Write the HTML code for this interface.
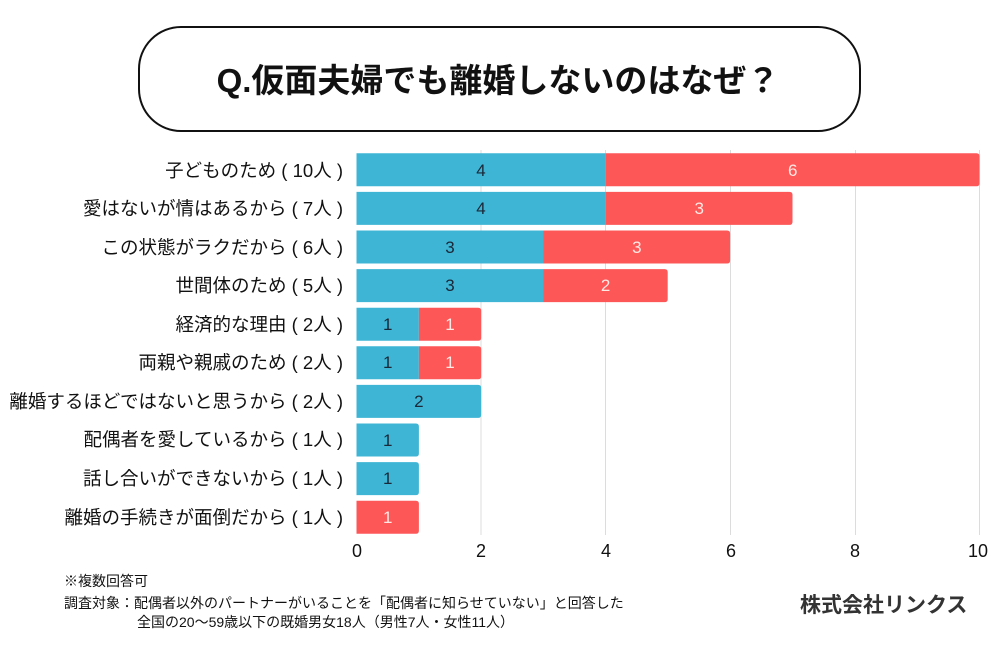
<!DOCTYPE html>
<html><head><meta charset="utf-8"><style>
html,body{margin:0;padding:0;background:#fff;}
body{width:1000px;height:650px;overflow:hidden;position:relative;}
svg{position:absolute;left:0;top:0;}
</style></head><body>
<svg width="1000" height="650" viewBox="0 0 1000 650" xmlns="http://www.w3.org/2000/svg">
<rect x="0" y="0" width="1000" height="650" fill="#fff"/>
<!-- title box -->
<rect x="139" y="27" width="721" height="104" rx="42" ry="42" fill="#fff" stroke="#111" stroke-width="2"/>
<text x="498" y="92" text-anchor="middle" font-family="Liberation Sans, 'Noto Sans CJK JP', sans-serif" font-weight="bold" font-size="33" fill="#111">Q.仮面夫婦でも離婚しないのはなぜ？</text>

<!-- gridlines -->
<g stroke="#dcdcdc" stroke-width="1">
<line x1="481" y1="150" x2="481" y2="535"/>
<line x1="605.5" y1="150" x2="605.5" y2="535"/>
<line x1="730.5" y1="150" x2="730.5" y2="535"/>
<line x1="855.5" y1="150" x2="855.5" y2="535"/>
<line x1="979.5" y1="150" x2="979.5" y2="535"/>
</g>

<!-- bars -->
<g>
<path d="M356.5 153.3 H605.9 V186.3 H356.5 Z" fill="#3fb5d5"/>
<path d="M605.9 153.3 H976.5 Q979.5 153.3 979.5 156.3 V183.3 Q979.5 186.3 976.5 186.3 H605.9 Z" fill="#fd5758"/>
<path d="M356.5 191.9 H605.9 V224.9 H356.5 Z" fill="#3fb5d5"/>
<path d="M605.9 191.9 H789.5 Q792.5 191.9 792.5 194.9 V221.9 Q792.5 224.9 789.5 224.9 H605.9 Z" fill="#fd5758"/>
<path d="M356.5 230.5 H543.5 V263.5 H356.5 Z" fill="#3fb5d5"/>
<path d="M543.5 230.5 H727.1 Q730.1 230.5 730.1 233.5 V260.5 Q730.1 263.5 727.1 263.5 H543.5 Z" fill="#fd5758"/>
<path d="M356.5 269.1 H543.5 V302.1 H356.5 Z" fill="#3fb5d5"/>
<path d="M543.5 269.1 H664.7 Q667.7 269.1 667.7 272.1 V299.1 Q667.7 302.1 664.7 302.1 H543.5 Z" fill="#fd5758"/>
<path d="M356.5 307.7 H418.9 V340.7 H356.5 Z" fill="#3fb5d5"/>
<path d="M418.9 307.7 H478.2 Q481.2 307.7 481.2 310.7 V337.7 Q481.2 340.7 478.2 340.7 H418.9 Z" fill="#fd5758"/>
<path d="M356.5 346.3 H418.9 V379.3 H356.5 Z" fill="#3fb5d5"/>
<path d="M418.9 346.3 H478.2 Q481.2 346.3 481.2 349.3 V376.3 Q481.2 379.3 478.2 379.3 H418.9 Z" fill="#fd5758"/>
<path d="M356.5 384.9 H478.2 Q481.2 384.9 481.2 387.9 V414.9 Q481.2 417.9 478.2 417.9 H356.5 Z" fill="#3fb5d5"/>
<path d="M356.5 423.5 H415.9 Q418.9 423.5 418.9 426.5 V453.5 Q418.9 456.5 415.9 456.5 H356.5 Z" fill="#3fb5d5"/>
<path d="M356.5 462.1 H415.9 Q418.9 462.1 418.9 465.1 V492.1 Q418.9 495.1 415.9 495.1 H356.5 Z" fill="#3fb5d5"/>
<path d="M356.5 500.7 H415.9 Q418.9 500.7 418.9 503.7 V530.7 Q418.9 533.7 415.9 533.7 H356.5 Z" fill="#fd5758"/>
</g>

<!-- value labels -->
<g font-family="Liberation Sans, sans-serif" font-size="17" text-anchor="middle">
<g fill="#1a2838">
<text x="481" y="176">4</text>
<text x="481" y="214">4</text>
<text x="450" y="253">3</text>
<text x="450" y="291">3</text>
<text x="387.7" y="330">1</text>
<text x="387.7" y="368">1</text>
<text x="418.9" y="407">2</text>
<text x="387.7" y="446">1</text>
<text x="387.7" y="484">1</text>
</g>
<g fill="#ffe9e4">
<text x="792.7" y="176">6</text>
<text x="699.2" y="214">3</text>
<text x="636.8" y="253">3</text>
<text x="605.6" y="291">2</text>
<text x="450" y="330">1</text>
<text x="450" y="368">1</text>
<text x="387.7" y="523">1</text>
</g>
</g>

<!-- category labels -->
<g font-family="Liberation Sans, 'Noto Sans CJK JP', sans-serif" font-size="18.5" fill="#111" text-anchor="end">
<text x="343" y="177">子どものため ( 10人 )</text>
<text x="343" y="215">愛はないが情はあるから ( 7人 )</text>
<text x="343" y="254">この状態がラクだから ( 6人 )</text>
<text x="343" y="292">世間体のため ( 5人 )</text>
<text x="343" y="331">経済的な理由 ( 2人 )</text>
<text x="343" y="369">両親や親戚のため ( 2人 )</text>
<text x="343" y="408">離婚するほどではないと思うから ( 2人 )</text>
<text x="343" y="446">配偶者を愛しているから ( 1人 )</text>
<text x="343" y="485">話し合いができないから ( 1人 )</text>
<text x="343" y="524">離婚の手続きが面倒だから ( 1人 )</text>
</g>

<!-- axis tick labels -->
<g font-family="Liberation Sans, sans-serif" font-size="18" fill="#111" text-anchor="middle">
<text x="357" y="557">0</text>
<text x="481" y="557">2</text>
<text x="606" y="557">4</text>
<text x="731" y="557">6</text>
<text x="855" y="557">8</text>
<text x="978" y="557">10</text>
</g>

<!-- footer -->
<g font-family="Liberation Sans, 'Noto Sans CJK JP', sans-serif" font-size="14" fill="#111">
<text x="64" y="586">※複数回答可</text>
<text x="64" y="608">調査対象：配偶者以外のパートナーがいることを「配偶者に知らせていない」と回答した</text>
<text x="137" y="627">全国の20～59歳以下の既婚男女18人（男性7人・女性11人）</text>
</g>
<text x="800" y="612" font-family="Liberation Sans, 'Noto Sans CJK JP', sans-serif" font-size="21" font-weight="bold" fill="#333">株式会社リンクス</text>
</svg>
</body></html>
